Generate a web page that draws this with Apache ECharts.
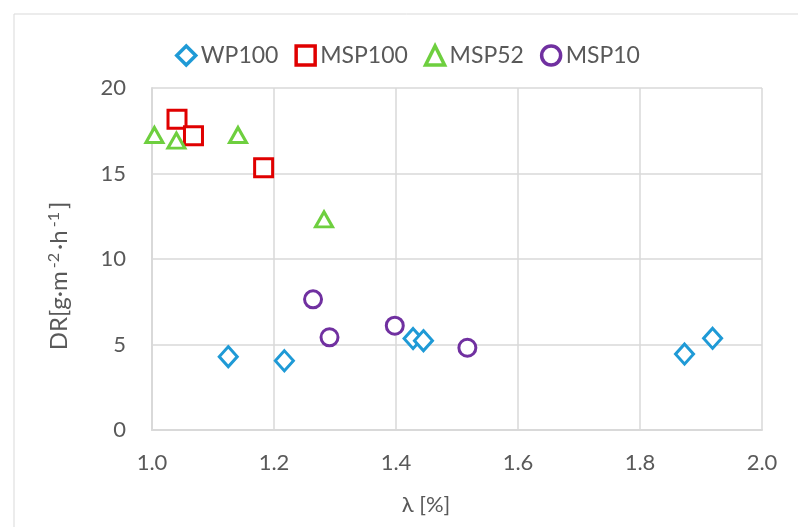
<!DOCTYPE html>
<html><head><meta charset="utf-8">
<script src="https://cdn.jsdelivr.net/npm/echarts@6/dist/echarts.min.js"></script>
<style>html,body{margin:0;padding:0;background:#fff}#c{width:798px;height:527px}</style>
</head><body><div id="c"></div>
<script>
const seriesNames = ['WP100', 'MSP100', 'MSP52', 'MSP10'];
const wp100 = [[1.125, 4.29], [1.217, 4.05], [1.428, 5.35], [1.445, 5.22], [1.873, 4.44], [1.919, 5.36]];
const msp100 = [[1.041, 18.17], [1.068, 17.21], [1.183, 15.34]];
const msp52 = [[1.004, 17.25], [1.040, 16.92], [1.141, 17.25], [1.282, 12.32]];
const msp10 = [[1.264, 7.64], [1.291, 5.42], [1.398, 6.10], [1.517, 4.81]];
const xTicks = [1.0, 1.2, 1.4, 1.6, 1.8, 2.0];
const yTicks = [0, 5, 10, 15, 20];

const font = 'Lato, "Open Sans", sans-serif';
const grey = '#595959';
const gridColor = '#d9d9d9';
const colors = ['#1f9ad6', '#e00000', '#6ecf3f', '#7030a0'];
function mk(name, data, symbol, size, color) {
  return {
    name, type: 'scatter', data, symbol, symbolSize: size,
    itemStyle: { color: '#fff', borderColor: color, borderWidth: 3, opacity: 1 },
    emphasis: { disabled: true }
  };
}
const chart = echarts.init(document.getElementById('c'));
chart.setOption({
  animation: false,
  backgroundColor: '#fff',
  graphic: [{ type: 'rect', shape: { x: 14, y: 14, width: 800, height: 520 }, style: { fill: 'none', stroke: '#d9d9d9', lineWidth: 1 } }],
  legend: {
    top: 39, left: 170, itemGap: 16, itemWidth: 19, itemHeight: 19,
    textStyle: { color: grey, fontSize: 23, fontFamily: font },
    data: seriesNames.map((n, i) => ({ name: n, itemStyle: { color: '#fff', borderColor: colors[i], borderWidth: 3.5 } }))
  },
  grid: { left: 152, right: 36, top: 88, bottom: 97 },
  xAxis: {
    type: 'value', min: 1.0, max: 2.0, interval: 0.2,
    name: 'λ [%]', nameLocation: 'middle', nameGap: 64,
    nameTextStyle: { color: grey, fontSize: 22, fontFamily: font, padding: [0, 62, 0, 0] },
    axisLine: { show: true, lineStyle: { color: gridColor, width: 2 } },
    axisTick: { show: false },
    axisLabel: { color: grey, fontSize: 22, fontFamily: font, margin: 22, formatter: v => v.toFixed(1) },
    splitLine: { show: true, lineStyle: { color: gridColor, width: 1.5 } }
  },
  yAxis: {
    type: 'value', min: 0, max: 20, interval: 5,
    name: '{m|DR[g·m}{s|-2}{m|·h}{s|-1}{m|]}', nameLocation: 'middle', nameGap: 80, nameRotate: 90,
    nameTextStyle: {
      color: grey, fontSize: 23, fontFamily: font, padding: [0, 34, 0, 0],
      rich: {
        m: { color: grey, fontSize: 24, fontFamily: font },
        s: { color: grey, fontSize: 16, fontFamily: font, verticalAlign: 'top', padding: [0, 3, 10, 3] }
      }
    },
    axisLine: { show: true, lineStyle: { color: gridColor, width: 2 } },
    axisTick: { show: false },
    axisLabel: { color: grey, fontSize: 22, fontFamily: font, margin: 26 },
    splitLine: { show: true, lineStyle: { color: gridColor, width: 1.5 } }
  },
  series: [
    mk('WP100', wp100, 'diamond', [18, 20], colors[0]),
    mk('MSP100', msp100, 'rect', 18, colors[1]),
    mk('MSP52', msp52, 'triangle', [17, 15], colors[2]),
    mk('MSP10', msp10, 'circle', 17, colors[3])
  ]
});
</script></body></html>
